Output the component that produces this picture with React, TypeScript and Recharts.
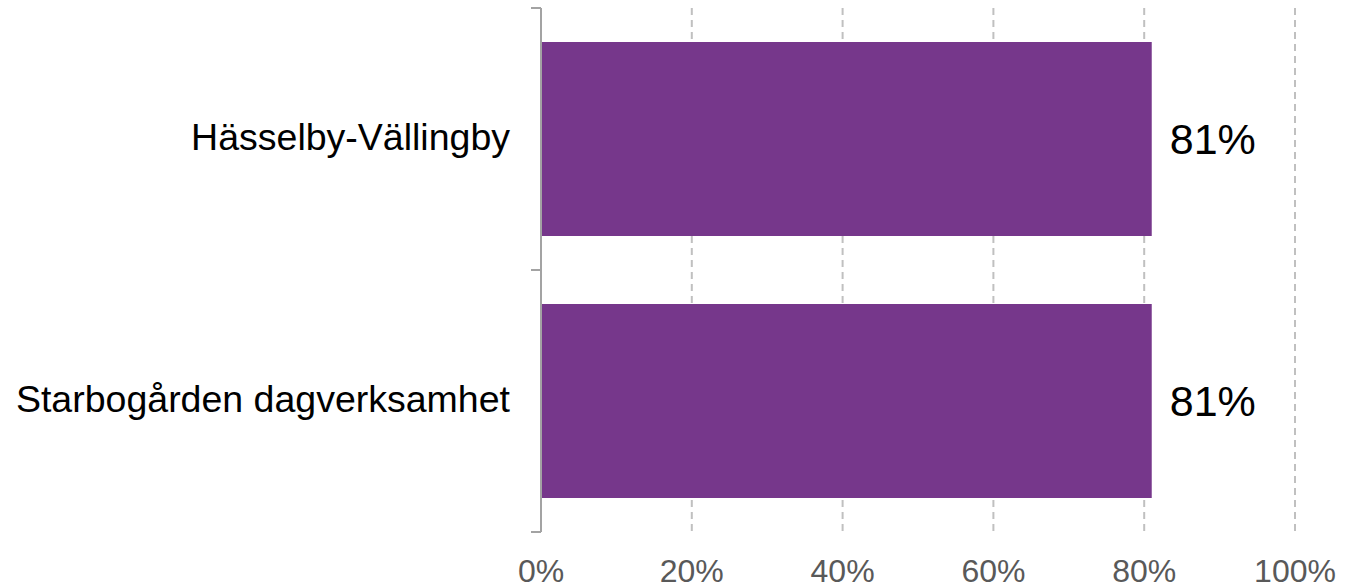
import React from "react";
import {
    BarChart,
    Bar,
    XAxis,
    YAxis,
    CartesianGrid,
    LabelList,
} from "recharts";

// categories and values
const categories = ["Hässelby-Vällingby", "Starbogården dagverksamhet"];
const values = [0.81, 0.81];
const xTicks = [0, 0.2, 0.4, 0.6, 0.8, 1];

const data = categories.map((name, i) => ({ name, value: values[i] }));

const FONT = "'Liberation Sans', Arial, sans-serif";
const AXIS_GREY = "#a3a3a3";

// category label plus short tick marks at the band edges (like the source chart)
const CategoryTick = (props: any) => {
    const { x, y, payload } = props;
    const half = payload.offset || 0;
    return (
        <g>
            <line x1={x - 10} x2={x} y1={y - half} y2={y - half} stroke={AXIS_GREY} strokeWidth={2} />
            <line x1={x - 10} x2={x} y1={y + half} y2={y + half} stroke={AXIS_GREY} strokeWidth={2} />
            <text
                x={x - 31}
                y={y}
                dy="0.3em"
                textAnchor="end"
                fill="#000"
                fontSize={37.5}
                fontFamily={FONT}
            >
                {payload.value}
            </text>
        </g>
    );
};

export default function App() {
    return (
        <div style={{ position: "absolute", left: 0, top: 0, background: "#fff" }}>
            <BarChart
                width={1355}
                height={588}
                data={data}
                layout="vertical"
                margin={{ top: 8, right: 60, bottom: 0, left: 0 }}
                barCategoryGap="13%"
            >
                <CartesianGrid
                    horizontal={false}
                    stroke="#c0c0c0"
                    strokeWidth={2}
                    strokeDasharray="7 5"
                />
                <XAxis
                    type="number"
                    domain={[0, 1]}
                    ticks={xTicks}
                    tickFormatter={(v) => `${Math.round(v * 100)}%`}
                    axisLine={false}
                    tickLine={false}
                    tickSize={0}
                    tickMargin={27}
                    height={56}
                    interval={0}
                    tick={{ fill: "#595959", fontSize: 32, fontFamily: FONT }}
                />
                <YAxis
                    type="category"
                    dataKey="name"
                    width={541}
                    axisLine={{ stroke: AXIS_GREY, strokeWidth: 2 }}
                    tickLine={false}
                    tickSize={0}
                    tickMargin={0}
                    tick={<CategoryTick />}
                    interval={0}
                />
                <Bar dataKey="value" fill="#76378B" isAnimationActive={false}>
                    <LabelList
                        dataKey="value"
                        position="right"
                        offset={18}
                        formatter={(v: any) => `${Math.round(Number(v) * 100)}%`}
                        fill="#000"
                        fontSize={43}
                        fontFamily={FONT}
                    />
                </Bar>
            </BarChart>
        </div>
    );
}
